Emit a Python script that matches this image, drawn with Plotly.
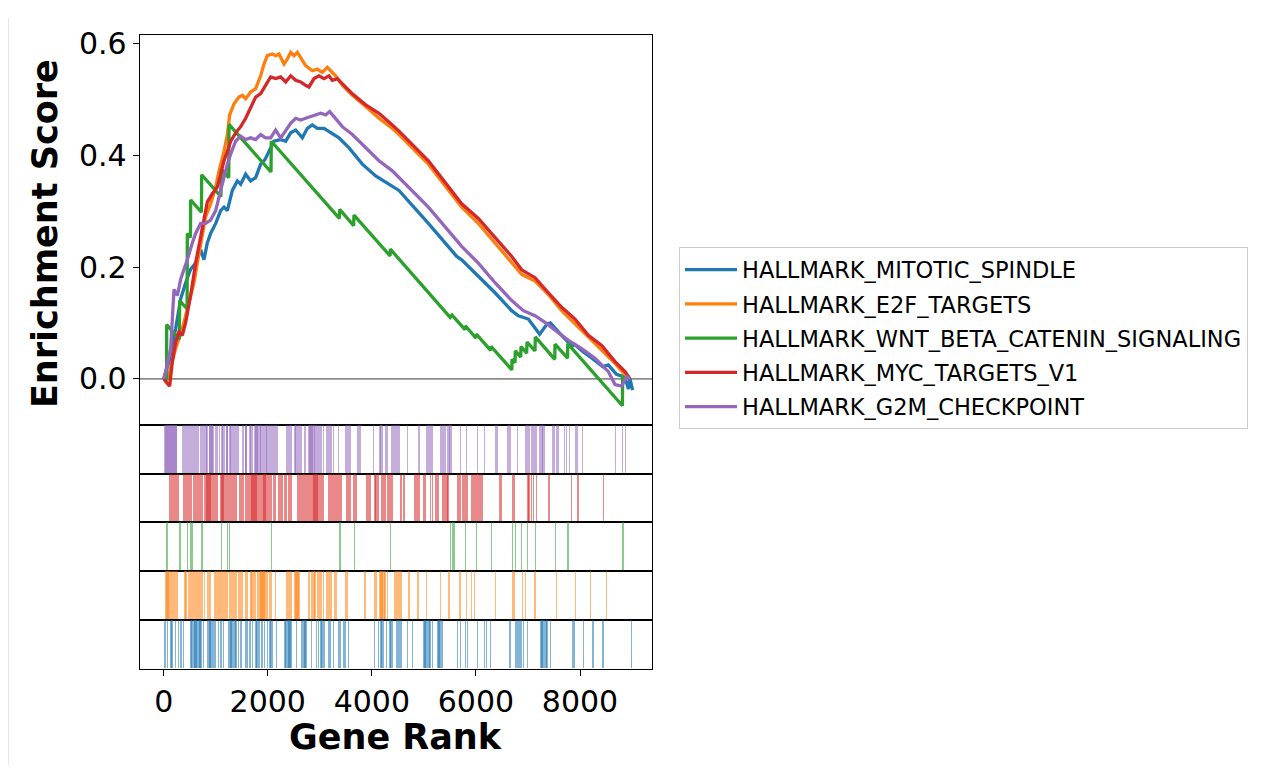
import plotly.graph_objects as go

# page offset of the plot div inside the browser window (body margin etc.)
OFF_X, OFF_Y = 8, 15
W, H = 1252, 757

set_names = ["HALLMARK_MITOTIC_SPINDLE", "HALLMARK_E2F_TARGETS",
             "HALLMARK_WNT_BETA_CATENIN_SIGNALING", "HALLMARK_MYC_TARGETS_V1",
             "HALLMARK_G2M_CHECKPOINT"]
set_colors = ["#1f77b4", "#ff7f0e", "#2ca02c", "#d62728", "#9467bd"]
set_rgba = ["rgba(31,119,180,0.55)", "rgba(255,127,14,0.55)", "rgba(44,160,44,0.55)",
            "rgba(214,39,40,0.55)", "rgba(148,103,189,0.55)"]

# ---- running enrichment score curves (rank, ES) ----
mitotic_rank = [0, 102, 230, 326, 422, 518, 614, 710, 774, 838, 902, 999, 1095, 1159, 1223, 1319,
                1415, 1479, 1575, 1671, 1767, 1863, 1946, 2023, 2119, 2248, 2344, 2440, 2536, 2664,
                2760, 2856, 2952, 3080, 3208, 3368, 3561, 3817, 4073, 4329, 4521, 5086, 5630, 5726,
                6046, 6367, 6687, 6815, 7007, 7225, 7365, 7430, 7648, 7846, 7891, 8064, 8243, 8435,
                8544, 8700, 8864, 8930, 8960, 9010]
mitotic_es = [0, 0.031, 0.090, 0.143, 0.172, 0.196, 0.207, 0.231, 0.213, 0.243, 0.260, 0.278, 0.301,
              0.307, 0.301, 0.337, 0.354, 0.348, 0.366, 0.354, 0.360, 0.384, 0.392, 0.407, 0.425,
              0.428, 0.425, 0.440, 0.445, 0.431, 0.448, 0.454, 0.448, 0.448, 0.440, 0.431, 0.413,
              0.384, 0.363, 0.348, 0.337, 0.278, 0.219, 0.213, 0.184, 0.154, 0.122, 0.113, 0.107,
              0.080, 0.098, 0.100, 0.078, 0.058, 0.062, 0.048, 0.036, 0.022, 0.025, 0.008, 0.003,
              -0.018, 0.0, -0.020]

e2f_rank = [0, 80, 230, 358, 486, 582, 646, 710, 806, 902, 999, 1063, 1159, 1223, 1268, 1351, 1447,
            1511, 1575, 1671, 1767, 1863, 1927, 1991, 2087, 2151, 2215, 2312, 2376, 2440, 2504, 2568,
            2632, 2728, 2856, 2952, 3048, 3144, 3208, 3304, 3432, 3625, 3881, 4137, 4393, 4521, 5086,
            5726, 6046, 6367, 6687, 6879, 7135, 7391, 7648, 7904, 8160, 8416, 8672, 8864, 8928]
e2f_es = [0, 0.0, 0.054, 0.090, 0.137, 0.172, 0.207, 0.243, 0.290, 0.313, 0.343, 0.372, 0.407, 0.437,
          0.472, 0.492, 0.504, 0.507, 0.501, 0.513, 0.519, 0.542, 0.563, 0.578, 0.581, 0.578, 0.581,
          0.563, 0.572, 0.584, 0.578, 0.584, 0.575, 0.560, 0.551, 0.554, 0.548, 0.557, 0.551, 0.542,
          0.525, 0.507, 0.487, 0.466, 0.448, 0.437, 0.384, 0.307, 0.278, 0.243, 0.207, 0.187, 0.175,
          0.151, 0.122, 0.098, 0.075, 0.051, 0.028, 0.007, 0.0]

wnt_rank = [0, 57, 57, 300, 307, 450, 454, 515, 518, 725, 730, 1100, 1107, 1250, 1255, 2062, 2068,
            3375, 3381, 3650, 3656, 4350, 4355, 5505, 5540, 5790, 5796, 6000, 6007, 6283, 6289, 6690,
            6693, 6750, 6757, 6860, 6866, 6975, 6981, 7135, 7141, 7515, 7519, 7760, 7763, 8815, 8819,
            8900]
wnt_es = [0, 0.0, 0.097, 0.071, 0.140, 0.125, 0.260, 0.253, 0.320, 0.298, 0.365, 0.326, 0.375, 0.360,
          0.455, 0.370, 0.425, 0.287, 0.303, 0.274, 0.293, 0.220, 0.232, 0.110, 0.114, 0.088, 0.095,
          0.073, 0.080, 0.051, 0.058, 0.016, 0.035, 0.029, 0.050, 0.039, 0.058, 0.046, 0.066, 0.050,
          0.075, 0.035, 0.062, 0.037, 0.063, -0.048, 0.004, 0.0]

myc_rank = [0, 70, 115, 166, 230, 294, 358, 422, 518, 614, 710, 774, 838, 934, 1031, 1095, 1159, 1223,
            1287, 1383, 1479, 1575, 1671, 1767, 1863, 1959, 2055, 2151, 2248, 2344, 2440, 2536, 2632,
            2728, 2792, 2888, 2984, 3080, 3176, 3240, 3336, 3464, 3625, 3881, 4137, 4393, 4521, 5086,
            5726, 6046, 6367, 6687, 6879, 7135, 7391, 7648, 7904, 8160, 8416, 8672, 8864, 8961]
myc_es = [0, -0.007, -0.013, 0.031, 0.066, 0.084, 0.078, 0.101, 0.149, 0.207, 0.254, 0.290, 0.316,
          0.331, 0.343, 0.366, 0.390, 0.407, 0.425, 0.440, 0.451, 0.466, 0.484, 0.504, 0.510, 0.525,
          0.540, 0.537, 0.540, 0.531, 0.542, 0.534, 0.531, 0.525, 0.522, 0.537, 0.542, 0.537, 0.542,
          0.534, 0.537, 0.525, 0.510, 0.490, 0.475, 0.454, 0.443, 0.390, 0.313, 0.287, 0.254, 0.219,
          0.195, 0.181, 0.154, 0.128, 0.107, 0.078, 0.060, 0.031, 0.013, 0.0]

g2m_rank = [0, 38, 134, 198, 262, 326, 390, 454, 550, 614, 710, 806, 902, 999, 1095, 1159, 1223, 1306,
            1383, 1479, 1575, 1671, 1767, 1863, 1959, 2055, 2151, 2248, 2344, 2440, 2536, 2632, 2728,
            2824, 2920, 3016, 3112, 3189, 3272, 3432, 3625, 3881, 4137, 4393, 4521, 5086, 5726, 6046,
            6367, 6687, 6911, 7135, 7327, 7520, 7776, 8032, 8288, 8544, 8672, 8800, 8896, 8961]
g2m_es = [0, 0.013, 0.054, 0.160, 0.149, 0.178, 0.196, 0.213, 0.243, 0.260, 0.278, 0.278, 0.284,
          0.301, 0.337, 0.360, 0.384, 0.407, 0.425, 0.434, 0.428, 0.431, 0.428, 0.437, 0.431, 0.431,
          0.445, 0.431, 0.443, 0.457, 0.466, 0.463, 0.466, 0.469, 0.472, 0.475, 0.472, 0.478, 0.469,
          0.451, 0.437, 0.413, 0.390, 0.372, 0.360, 0.307, 0.237, 0.207, 0.172, 0.140, 0.122, 0.113,
          0.101, 0.087, 0.069, 0.054, 0.037, 0.013, -0.010, -0.013, 0.004, 0.0]

# ---- hit ranks of each gene set (rank panels) ----
mitotic_hits = [19, 70, 134, 150, 166, 217, 281, 326, 371, 518, 534, 550, 566, 582, 598, 614, 630, 646,
                662, 678, 694, 710, 755, 838, 854, 870, 886, 902, 934, 950, 966, 986, 1050, 1095, 1140,
                1242, 1258, 1274, 1287, 1303, 1320, 1338, 1355, 1370, 1383, 1434, 1479, 1562, 1585,
                1607, 1652, 1703, 1767, 1783, 1799, 1815, 1831, 1883, 1927, 1991, 2036, 2058, 2081,
                2164, 2324, 2340, 2356, 2372, 2388, 2404, 2420, 2436, 2452, 2548, 2645, 2661, 2677,
                2693, 2709, 2725, 2741, 2837, 2933, 2965, 3016, 3032, 3048, 3064, 3080, 3157, 3189,
                3253, 3349, 3381, 3445, 3467, 3490, 3541, 4041, 4118, 4169, 4190, 4214, 4278, 4342,
                4364, 4386, 4470, 4492, 4515, 4540, 4560, 4675, 4771, 4983, 4999, 5015, 5031, 5047,
                5063, 5079, 5095, 5111, 5156, 5252, 5268, 5284, 5300, 5316, 5332, 5348, 5636, 5700,
                5796, 5828, 6020, 6161, 6199, 6276, 6648, 6757, 6780, 6802, 6841, 6873, 6905, 6981,
                7231, 7247, 7263, 7279, 7295, 7311, 7327, 7343, 7359, 7430, 7846, 7870, 7891, 8064,
                8243, 8435, 8990]
e2f_hits = [38, 58, 78, 98, 118, 138, 158, 178, 198, 218, 240, 262, 390, 406, 422, 473, 493, 513, 533,
            553, 573, 593, 614, 646, 666, 686, 706, 726, 746, 774, 838, 860, 883, 967, 987, 1007, 1027,
            1047, 1067, 1087, 1107, 1127, 1147, 1167, 1187, 1207, 1223, 1255, 1275, 1295, 1315, 1335,
            1355, 1383, 1434, 1455, 1475, 1495, 1511, 1562, 1585, 1607, 1671, 1692, 1713, 1734, 1754,
            1799, 1820, 1844, 1863, 1883, 1903, 1923, 1943, 1963, 1991, 2023, 2045, 2068, 2145, 2356,
            2375, 2395, 2415, 2435, 2452, 2516, 2536, 2556, 2576, 2593, 2785, 2837, 2860, 2880, 2901,
            2952, 2972, 2992, 3012, 3032, 3061, 3125, 3145, 3165, 3185, 3205, 3221, 3272, 3295, 3317,
            3490, 3510, 3528, 3861, 4041, 4063, 4086, 4149, 4170, 4190, 4210, 4230, 4246, 4297, 4425,
            4445, 4465, 4485, 4505, 4521, 4540, 4560, 4707, 4880, 5047, 5316, 5476, 5687, 5815, 5905,
            5969, 6373, 6693, 6715, 6737, 6885, 6949, 7122, 7141, 7538, 7910, 8192, 8499]
wnt_hits = [57, 307, 454, 518, 550, 730, 1107, 1223, 1255, 2068, 3381, 3656, 4355, 5508, 5540, 5572,
            5796, 6007, 6289, 6693, 6757, 6866, 6981, 7141, 7519, 7763, 8819]
myc_hits = [102, 122, 142, 162, 182, 202, 222, 242, 262, 281, 377, 400, 423, 446, 469, 495, 518, 563,
            583, 603, 623, 643, 663, 683, 703, 723, 743, 774, 806, 826, 846, 866, 886, 902, 934, 954,
            974, 994, 1014, 1031, 1095, 1115, 1135, 1155, 1175, 1195, 1215, 1235, 1255, 1275, 1295,
            1315, 1335, 1355, 1383, 1447, 1467, 1487, 1507, 1524, 1562, 1582, 1602, 1622, 1639, 1671,
            1691, 1711, 1731, 1751, 1767, 1780, 1800, 1820, 1840, 1860, 1880, 1900, 1920, 1940, 1959,
            1991, 2011, 2031, 2051, 2068, 2100, 2120, 2145, 2196, 2216, 2236, 2256, 2273, 2311, 2333,
            2356, 2401, 2425, 2452, 2568, 2590, 2612, 2645, 2665, 2685, 2709, 2741, 2761, 2781, 2801,
            2821, 2841, 2861, 2881, 2901, 2921, 2941, 2961, 2981, 3001, 3021, 3041, 3061, 3157, 3177,
            3197, 3217, 3237, 3257, 3277, 3297, 3317, 3337, 3357, 3377, 3397, 3413, 3509, 3530, 3550,
            3573, 3637, 3660, 3680, 3701, 3893, 3915, 3935, 3957, 4054, 4075, 4096, 4118, 4182, 4204,
            4225, 4246, 4296, 4318, 4340, 4362, 4386, 4547, 4570, 4595, 4624, 4816, 4840, 4865, 4899,
            4995, 5027, 5124, 5156, 5220, 5242, 5264, 5348, 5370, 5392, 5414, 5436, 5457, 5649, 5687,
            5732, 5755, 5780, 5805, 5828, 5905, 5930, 5956, 5988, 6010, 6030, 6050, 6070, 6095, 6116,
            6456, 6481, 6693, 6725, 6994, 7013, 7058, 7103, 7154, 7398, 7827, 7955, 8448]
g2m_hits = [19, 38, 58, 77, 96, 115, 134, 154, 173, 192, 211, 230, 243, 358, 380, 403, 426, 448, 470,
            494, 518, 550, 570, 590, 610, 630, 650, 666, 698, 720, 740, 760, 775, 806, 822, 838, 870,
            886, 902, 922, 935, 947, 986, 1008, 1031, 1063, 1114, 1136, 1159, 1203, 1213, 1223, 1255,
            1271, 1287, 1319, 1339, 1358, 1377, 1396, 1415, 1434, 1511, 1524, 1562, 1575, 1588, 1639,
            1655, 1671, 1703, 1735, 1752, 1769, 1786, 1803, 1818, 1844, 1860, 1876, 1892, 1908, 1927,
            1959, 1975, 1991, 2007, 2023, 2040, 2068, 2081, 2100, 2120, 2140, 2160, 2183, 2356, 2375,
            2395, 2415, 2435, 2452, 2516, 2532, 2548, 2568, 2588, 2608, 2628, 2645, 2696, 2721, 2785,
            2805, 2825, 2845, 2865, 2885, 2901, 2933, 2953, 2973, 2993, 3013, 3033, 3061, 3125, 3145,
            3165, 3185, 3205, 3225, 3253, 3349, 3490, 3515, 3541, 3573, 3720, 3742, 3765, 4021, 4149,
            4170, 4194, 4258, 4276, 4296, 4373, 4395, 4417, 4440, 4462, 4485, 4514, 4675, 4899, 5047,
            5069, 5091, 5124, 5140, 5156, 5316, 5336, 5356, 5376, 5396, 5416, 5444, 5476, 5498, 5521,
            5700, 5815, 6020, 6161, 6373, 6390, 6405, 6609, 6635, 6661, 6789, 6949, 6975, 7013, 7058,
            7080, 7100, 7120, 7140, 7154, 7218, 7240, 7262, 7285, 7314, 7474, 7506, 7538, 7570, 7699,
            7731, 7795, 7910, 7936, 8038, 8679, 8807, 8871]

x_ticks = [0, 2000, 4000, 6000, 8000]
y_ticks = [0.0, 0.2, 0.4, 0.6]

curves = [(mitotic_rank, mitotic_es), (e2f_rank, e2f_es), (wnt_rank, wnt_es),
          (myc_rank, myc_es), (g2m_rank, g2m_es)]
hits = [mitotic_hits, e2f_hits, wnt_hits, myc_hits, g2m_hits]

# ---- layout geometry (window pixels -> paper) ----
def px(x):
    return (x - OFF_X) / W

def py(y):
    return 1 - (y - OFF_Y) / H

X_DOM = [px(139.7), px(652)]
X_RANGE = [-461, 9383]
main_dom = [py(427.7), py(32.7)]
panel_edges = [427.7, 477.3, 525.7, 575.7, 625.3, 674.3]
FONT = "DejaVu Sans"

fig = go.Figure()

for i, (name, col) in enumerate(zip(set_names, set_colors)):
    r, e = curves[i]
    fig.add_trace(go.Scatter(x=r, y=e, mode="lines", name=name, legendgroup=name,
                             line=dict(color=col, width=3.3), hoverinfo="skip",
                             xaxis="x", yaxis="y"))

# rank panels: top to bottom G2M, MYC, WNT, E2F, MITOTIC
panel_order = [4, 3, 2, 1, 0]
for k, si in enumerate(panel_order):
    ax = k + 2
    h = hits[si]
    fig.add_trace(go.Bar(x=h, y=[1] * len(h), base=0, width=24,
                         marker=dict(color=set_rgba[si], line=dict(width=0)),
                         showlegend=False, hoverinfo="skip",
                         xaxis=f"x{ax}", yaxis=f"y{ax}"))

frame = dict(showline=True, mirror=True, linecolor="black", linewidth=1.2,
             showgrid=False, zeroline=False)
layout = dict(
    width=W, height=H, margin=dict(l=0, r=0, t=0, b=0),
    paper_bgcolor="white", plot_bgcolor="white",
    barmode="overlay", bargap=0,
    font=dict(family=FONT, color="black"),
    xaxis=dict(domain=X_DOM, range=X_RANGE, anchor="y", showticklabels=False, ticks="", **frame),
    yaxis=dict(domain=main_dom, range=[-0.0829, 0.6141], anchor="x", tickvals=y_ticks,
               tickformat=".1f", ticks="outside", ticklen=6, tickwidth=1.2, tickcolor="black",
               tickfont=dict(size=30, family=FONT, color="black"), **frame),
    showlegend=True,
    legend=dict(x=px(679), y=py(247.5), xanchor="left", yanchor="top",
                bgcolor="white", bordercolor="#cccccc", borderwidth=1,
                font=dict(size=22.5, family=FONT, color="black"),
                tracegroupgap=2, itemwidth=52),
)
for k in range(5):
    ax = k + 2
    top = panel_edges[k]
    bot = panel_edges[k + 1]
    last = (k == 4)
    xa = dict(domain=X_DOM, range=X_RANGE, anchor=f"y{ax}",
              showticklabels=last, ticks="outside" if last else "",
              ticklen=6, tickwidth=1.2, tickcolor="black",
              tickfont=dict(size=30, family=FONT, color="black"), **frame)
    if last:
        xa["tickvals"] = x_ticks
    layout[f"xaxis{ax}"] = xa
    layout[f"yaxis{ax}"] = dict(domain=[py(bot), py(top)], range=[0, 1], anchor=f"x{ax}",
                                showticklabels=False, ticks="", **frame)
fig.update_layout(**layout)

# zero line
fig.add_shape(type="line", xref="x domain", yref="y", x0=0, x1=1, y0=0, y1=0,
              line=dict(color="rgba(128,128,128,0.9)", width=1.6), layer="below")

# axis titles
fig.add_annotation(text="Enrichment Score", xref="paper", yref="paper", x=px(45), y=py(234),
                   textangle=-90, showarrow=False, xanchor="center", yanchor="middle",
                   font=dict(size=35, family=FONT, color="black", weight="bold"))
fig.add_annotation(text="Gene Rank", xref="paper", yref="paper", x=px(396), y=py(744),
                   showarrow=False, xanchor="center", yanchor="middle",
                   font=dict(size=35, family=FONT, color="black", weight="bold"))

# light frame of the output cell (left edge)
fig.add_shape(type="line", xref="paper", yref="paper", x0=0.0004, x1=0.0004, y0=0, y1=1,
              line=dict(color="#e6e6e6", width=1))

fig.write_html("out.html")
